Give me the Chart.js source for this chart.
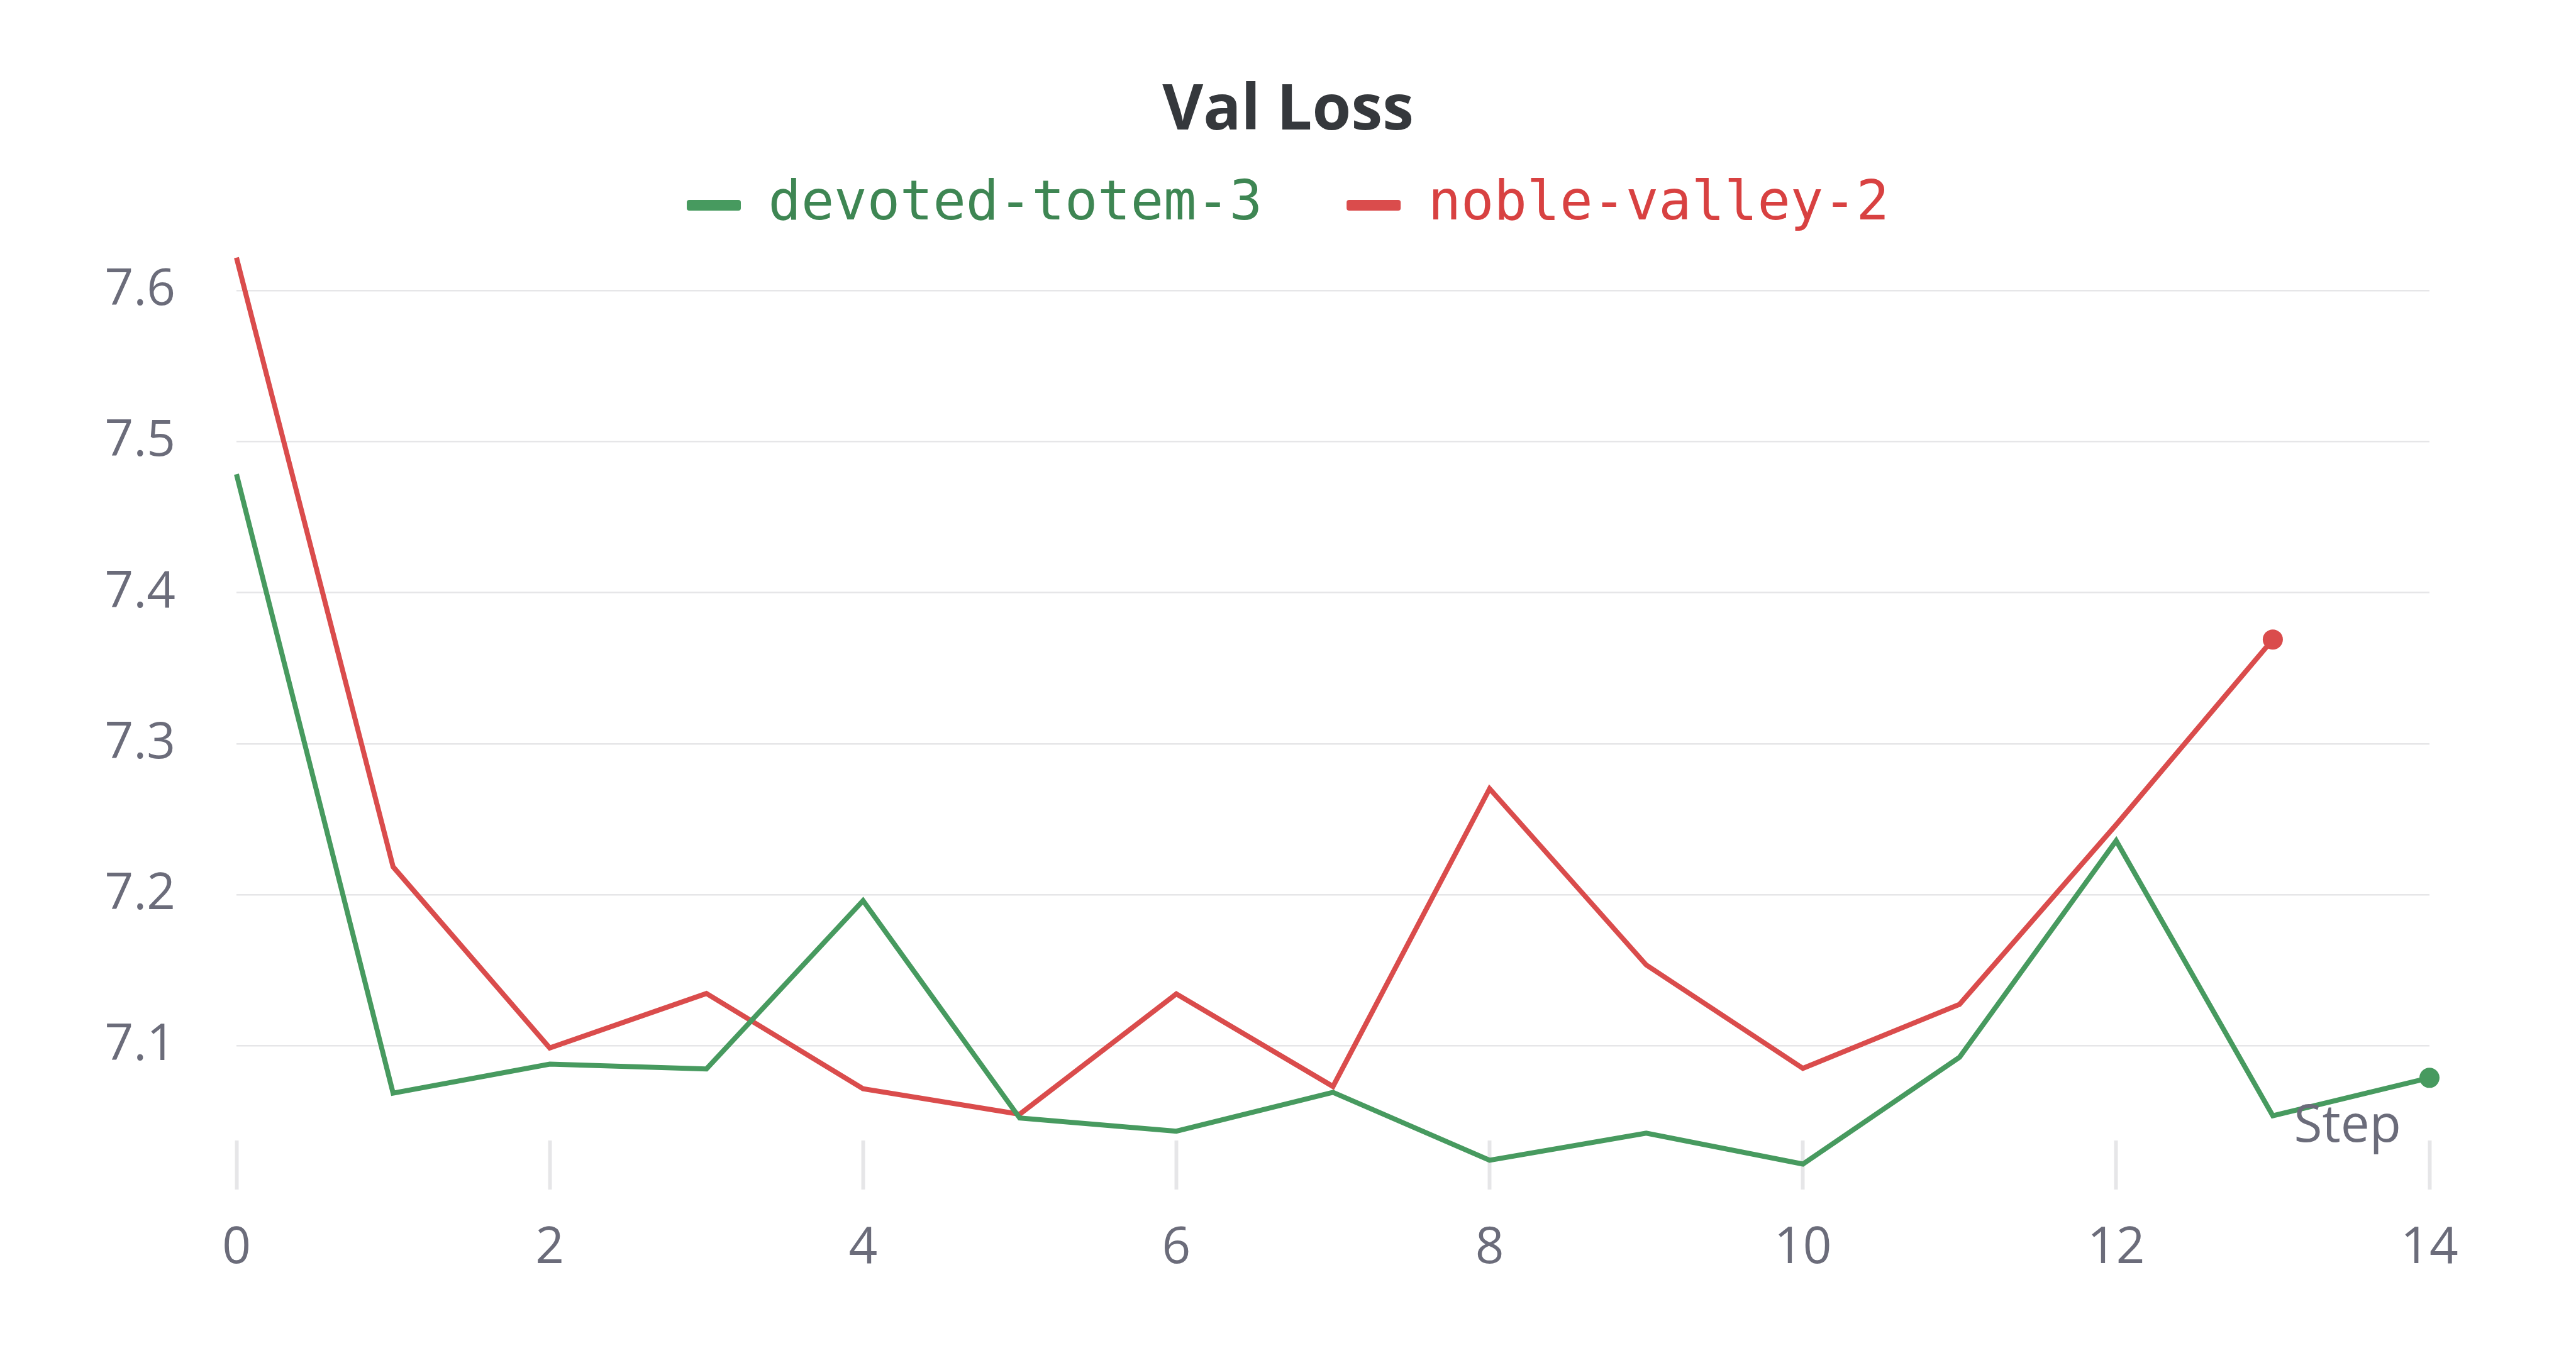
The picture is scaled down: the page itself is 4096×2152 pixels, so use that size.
<!DOCTYPE html>
<html><head><meta charset="utf-8">
<script src="https://cdn.jsdelivr.net/npm/chart.js@4.4.1/dist/chart.umd.min.js"></script>
<style>html,body{margin:0;padding:0;background:#fff;overflow:hidden}canvas{display:block}</style>
</head><body>
<canvas id="c" width="4096" height="2152"></canvas>
<script>
// ---- data ----
const steps = [0, 1, 2, 3, 4, 5, 6, 7, 8, 9, 10, 11, 12, 13, 14];
const devotedTotem3 = [7.4785, 7.0685, 7.0877, 7.0845, 7.196, 7.052, 7.0433, 7.069, 7.024, 7.042, 7.0215, 7.0923, 7.2357, 7.0535, 7.0786];
const nobleValley2 = [7.622, 7.2184, 7.0984, 7.1345, 7.0714, 7.0545, 7.1342, 7.0729, 7.2702, 7.1534, 7.0849, 7.1273, 7.2463, 7.369];
const seriesNames = ['devoted-totem-3', 'noble-valley-2'];
const xTickValues = [0, 2, 4, 6, 8, 10, 12, 14];
const yTickValues = [7.1, 7.2, 7.3, 7.4, 7.5, 7.6];
const titleText = 'Val Loss';
const xAxisLabel = 'Step';

// ---- styles ----
const GREEN = '#479a5f', RED = '#da4c4c';
const TEXT_COLORS = ['#3e8653', '#d84141'];
const TICK_COLOR = '#6b6c7a';
const GRID_COLOR = '#e6e6e8';
const FONT = '"Open Sans"';

const lastPointRadius = (ctx) => ctx.dataIndex === ctx.dataset.data.length - 1 ? 16 : 0;

const stepLabelPlugin = {
  id: 'stepLabel',
  afterDatasetsDraw(chart) {
    const { ctx, chartArea } = chart;
    ctx.save();
    ctx.font = '82px ' + FONT;
    ctx.fillStyle = TICK_COLOR;
    ctx.textAlign = 'right';
    ctx.textBaseline = 'alphabetic';
    ctx.fillText(xAxisLabel, chartArea.right - 45, chartArea.bottom + 2);
    ctx.restore();
  }
};

Chart.defaults.font.family = FONT;

new Chart(document.getElementById('c'), {
  type: 'line',
  data: {
    datasets: [
      {
        label: seriesNames[0],
        data: steps.map((s, i) => ({ x: s, y: devotedTotem3[i] })),
        borderColor: GREEN, backgroundColor: GREEN,
        borderWidth: 8, tension: 0, fill: false, clip: false,
        pointRadius: lastPointRadius, pointHoverRadius: 0, pointBorderWidth: 0
      },
      {
        label: seriesNames[1],
        data: steps.slice(0, nobleValley2.length).map((s, i) => ({ x: s, y: nobleValley2[i] })),
        borderColor: RED, backgroundColor: RED,
        borderWidth: 8, tension: 0, fill: false, clip: false,
        pointRadius: lastPointRadius, pointHoverRadius: 0, pointBorderWidth: 0
      }
    ]
  },
  options: {
    responsive: false, animation: false, devicePixelRatio: 1,
    layout: { padding: 0 },
    events: [],
    plugins: {
      title: {
        display: true, text: titleText, color: '#35383c',
        font: { family: FONT, size: 100, weight: 'bold', lineHeight: 1.2 },
        padding: { top: 118, bottom: -89 }
      },
      legend: {
        display: true, position: 'top',
        labels: {
          boxWidth: 86, boxHeight: 17, padding: 134,
          font: { family: '"DejaVu Sans Mono"', size: 87 },
          useBorderRadius: true, borderRadius: 4,
          generateLabels(chart) {
            const items = Chart.defaults.plugins.legend.labels.generateLabels(chart);
            items.forEach((it, i) => {
              it.fontColor = TEXT_COLORS[i];
              it.lineWidth = 0;
              it.strokeStyle = it.fillStyle;
            });
            return items;
          }
        }
      },
      tooltip: { enabled: false }
    },
    scales: {
      x: {
        type: 'linear', min: 0, max: 14,
        afterBuildTicks: (s) => { s.ticks = xTickValues.map(v => ({ value: v })); },
        afterFit: (s) => { s.height = 338; },
        grid: { display: true, drawOnChartArea: false, drawTicks: true, tickLength: 78, tickWidth: 6, tickColor: GRID_COLOR },
        border: { display: false },
        ticks: { color: TICK_COLOR, font: { size: 80 }, padding: 46, maxRotation: 0, autoSkip: false, callback: (v) => String(v) }
      },
      y: {
        type: 'linear', min: 7.0371, max: 7.6344,
        afterBuildTicks: (s) => { s.ticks = yTickValues.map(v => ({ value: v })); },
        afterFit: (s) => { s.width = 376; },
        grid: { color: GRID_COLOR, lineWidth: 2.5, drawTicks: false },
        border: { display: false },
        ticks: { color: TICK_COLOR, font: { size: 80 }, padding: 97, callback: (v) => Number(v).toFixed(1) }
      },
      yRight: {
        type: 'linear', position: 'right', display: true,
        afterFit: (s) => { s.width = 233; },
        grid: { display: false }, ticks: { display: false }, border: { display: false }
      }
    }
  },
  plugins: [stepLabelPlugin]
});
</script>
</body></html>
